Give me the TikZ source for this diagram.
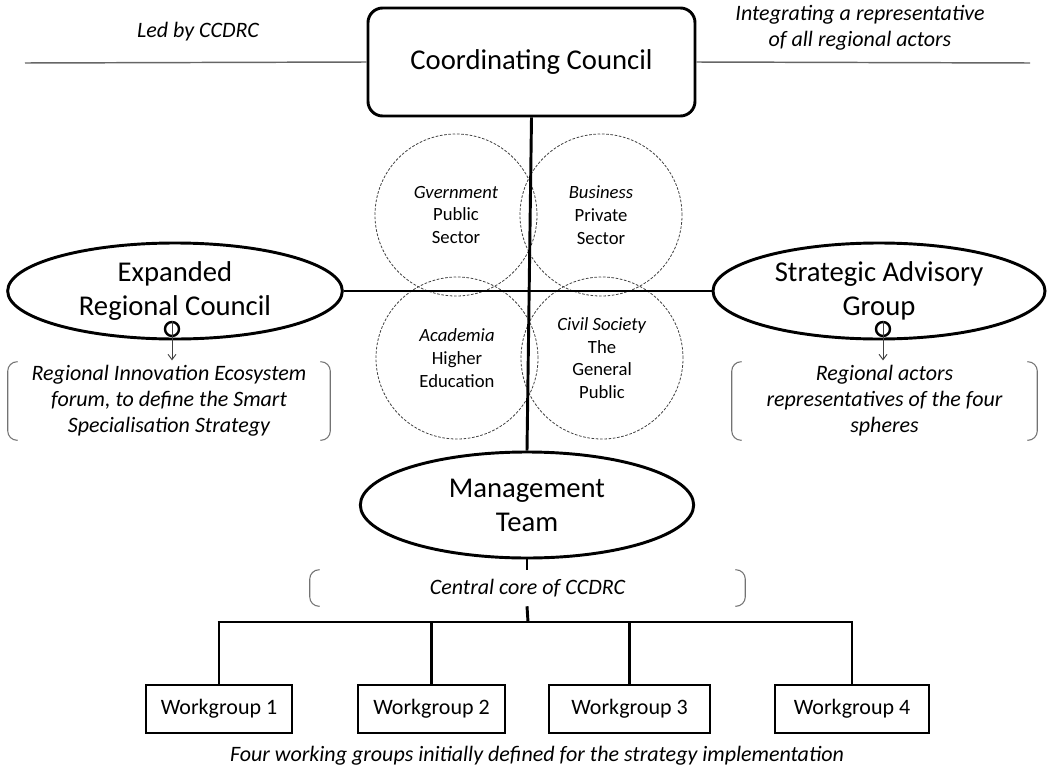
\documentclass[tikz,border=0pt]{standalone}
\usepackage{fontspec}
\setmainfont{Carlito}
\usetikzlibrary{arrows.meta,shapes.geometric}
\begin{document}
\begin{tikzpicture}[x=0.75pt,y=-0.75pt,
  bigtxt/.style={font=\fontsize{21.5}{25.5}\selectfont},
  midtxt/.style={font=\fontsize{16.5}{19.5}\selectfont\itshape},
  circtxt/.style={font=\fontsize{14}{17}\selectfont},
  thickline/.style={line width=2.2pt,black},
  ellnode/.style={ellipse,draw,line width=2.2pt,inner sep=0pt,align=center,bigtxt},
  sphere/.style={circle,draw=black!75,dash pattern=on 2pt off 1.2pt,line width=0.6pt,minimum size=121.5pt,inner sep=0pt,align=center,circtxt},
  wgbox/.style={rectangle,draw,line width=1.9pt,minimum height=36pt,inner sep=0pt,font=\fontsize{16.5}{19.5}\selectfont},
  brk/.style={draw=black!55,line width=0.8pt,rounded corners=7pt},
  bracketnode/.style={inner sep=0pt,align=center,midtxt},
  smallo/.style={circle,draw,line width=1.8pt,minimum size=10.5pt,inner sep=0pt},
  pointer/.style={draw=black!75,line width=0.7pt,-{Straight Barb[length=4pt,width=6pt]}},
  greyline/.style={draw=black!60,line width=1.1pt}
]
\useasboundingbox (0,0) rectangle (1049,771);

% Top council
\node[draw,rounded corners=11pt,line width=2.2pt,minimum width=245.25pt,minimum height=81pt,inner sep=0pt,bigtxt] (cc) at (531.5,62) {Coordinating Council};
\coordinate (ll) at (25,63);
\coordinate (rr) at (1030,63);
\draw[greyline] (ll) -- (cc.west);
\draw[greyline] (cc.east) -- (rr);
\node[midtxt] (led) at (198,32) {Led by CCDRC};
\node[midtxt,align=center] (integ) at (860,28) {Integrating a representative\\of all regional actors};

% Spheres
\node[sphere] (gov) at (456,215) {\textit{Gvernment}\\Public\\Sector};
\node[sphere] (bus) at (601,215) {\textit{Business}\\Private\\Sector};
\node[sphere] (aca) at (457,358) {\textit{Academia}\\Higher\\Education};
\node[sphere] (civ) at (602,358) {\textit{Civil Society}\\The\\General\\Public};

% Ellipses
\node[ellnode,minimum width=251pt,minimum height=72pt] (erc) at (175,291) {Expanded\\Regional Council};
\node[ellnode,minimum width=249pt,minimum height=72pt] (sag) at (879,291) {Strategic Advisory\\Group};
\node[ellnode,minimum width=250pt,minimum height=79.5pt] (mt) at (527,505) {Management\\Team};

% Main cross
\draw[thickline] (cc.south) -- (mt.north);
\draw[thickline] (erc.east) -- (sag.west);

% Bracket texts
\node[bracketnode,minimum width=241.5pt,minimum height=58.5pt] (rie) at (169,401) {Regional Innovation Ecosystem\\forum, to define the Smart\\Specialisation Strategy};
\node[bracketnode,minimum width=228.75pt,minimum height=58.5pt] (rar) at (884.5,401) {Regional actors\\representatives of the four\\spheres};
\node[bracketnode,minimum width=326.25pt,minimum height=27pt] (core) at (527.5,588) {Central core of CCDRC};

\foreach \b in {rie,rar,core}{
  \draw[brk] ([xshift=7.5pt]\b.north west) -- (\b.north west) -- (\b.south west) -- ([xshift=7.5pt]\b.south west);
  \draw[brk] ([xshift=-7.5pt]\b.north east) -- (\b.north east) -- (\b.south east) -- ([xshift=-7.5pt]\b.south east);
}

% Small circles and pointers
\node[smallo] (oerc) at (172,329) {};
\node[smallo] (osag) at (883,329) {};
\draw[pointer] (oerc.north) -- ([yshift=1pt]oerc |- rie.north);
\draw[pointer] (osag.north) -- ([yshift=1pt]osag |- rar.north);

% Management to workgroups
\coordinate (busline) at (528,622);
\draw[thickline] (mt.south) -- (mt.south |- core.north);
\draw[thickline] (mt.south |- core.south) -- (busline);

\node[wgbox,minimum width=109.5pt] (wg1) at (219,709) {Workgroup 1};
\node[wgbox,minimum width=110.25pt] (wg2) at (431.5,709) {Workgroup 2};
\node[wgbox,minimum width=120.75pt] (wg3) at (629.5,709) {Workgroup 3};
\node[wgbox,minimum width=115.5pt] (wg4) at (852,709) {Workgroup 4};

\draw[thickline] ([xshift=-1.1pt]wg1.north |- busline) -- ([xshift=1.1pt]wg4.north |- busline);
\foreach \w in {wg1,wg2,wg3,wg4}{
  \draw[thickline] (\w.north |- busline) -- (\w.north);
}

\node[midtxt] (caption) at (537,756) {Four working groups initially defined for the strategy implementation};
\end{tikzpicture}
\end{document}
